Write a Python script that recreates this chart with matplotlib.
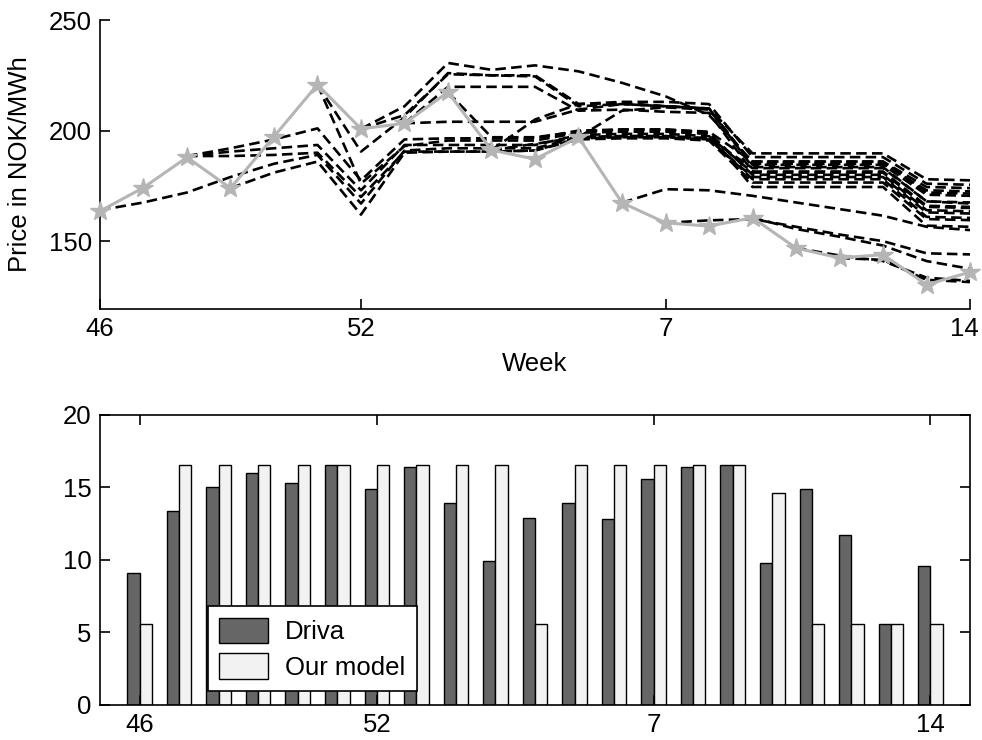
import numpy as np
import matplotlib.pyplot as plt
from matplotlib.transforms import ScaledTranslation

plt.rcParams["font.family"] = ["Liberation Sans", "DejaVu Sans"]
plt.rcParams["font.size"] = 18.5

weeks = [46, 47, 48, 49, 50, 51, 52, 1, 2, 3, 4, 5, 6, 7, 8, 9, 10, 11, 12, 13, 14]
tick_weeks = [46, 52, 7, 14]

# realised price, grey line with stars
price = [163.6, 174.2, 187.9, 174.0, 197.3, 220.8, 200.8, 203.3, 217.4, 191.2, 187.1,
         197.0, 167.4, 158.3, 156.8, 160.6, 146.9, 142.4, 143.9, 130.3, 136.0]

# forecast scenarios: index of the week they start from, then values up to week 14
scen_start = [0, 2, 2, 2, 3, 5, 5, 6, 6, 7, 7, 8, 9, 9, 11, 12, 13, 15, 16, 17]
scen_values = [
    [164, 167.5, 172, 179, 185, 189, 167, 191, 192, 192, 192, 197, 197.5, 197.5, 196.5, 183, 183, 183, 183, 168, 167],
    [188.5, 190.5, 192, 193.5, 173, 193.5, 193.5, 193.5, 193.5, 198, 198.5, 198.5, 197.5, 181, 181, 181, 181, 165.5, 165],
    [188.5, 192, 196, 201, 177.5, 196, 196.5, 196.5, 196.5, 200, 200.5, 200.5, 199.5, 186, 186, 186, 186, 172, 171.5],
    [188.5, 188.5, 189, 190, 170, 190.5, 190.5, 190.5, 191, 196.5, 197, 197, 196, 179, 179, 179, 179, 163, 162.5],
    [174, 181, 186, 162, 190, 190.5, 190.5, 191, 196, 196.5, 196.5, 195.5, 176.5, 176.5, 176.5, 176.5, 160, 159.5],
    [220.8, 190.5, 206, 226, 225, 225, 212, 212.5, 211, 210, 189.7, 189.7, 189.7, 189.7, 178, 177.5],
    [220.8, 176, 193, 195.5, 195.5, 195.5, 199, 199.5, 199.5, 198.5, 174.5, 174.5, 174.5, 174.5, 157, 156.5],
    [200.8, 211, 230.6, 227.5, 229.5, 226.8, 221.6, 215.5, 207, 186, 186, 186, 186, 174.5, 174],
    [200.8, 207, 225.5, 225, 224.5, 211, 212, 211, 210, 184.5, 184.5, 184.5, 184.5, 171, 170.5],
    [203.3, 219.8, 219.8, 219.8, 209, 209.5, 208.5, 208, 181.5, 181.5, 181.5, 181.5, 166, 165.5],
    [203.3, 204, 204, 204, 209.5, 212, 211, 210, 183.5, 183.5, 183.5, 183.5, 168, 167.5],
    [217.4, 197, 197, 199.5, 200.5, 200.5, 199, 180, 180, 180, 180, 164, 163.5],
    [191.2, 205, 212, 213, 213, 212, 188, 188, 188, 188, 176, 175.5],
    [191.2, 194, 197, 197.5, 197.5, 196.5, 178, 178, 178, 178, 161, 160.5],
    [197, 209, 210.5, 209.5, 185, 185, 185, 185, 173, 172.5],
    [167.4, 173.5, 173, 170.5, 167.5, 164.5, 161.5, 156.5, 155],
    [158.3, 159.4, 160, 156.5, 153, 150, 144.5, 144],
    [160.6, 155.5, 152, 148, 141, 137.5],
    [146.9, 143.5, 141, 133.5, 132],
    [142.4, 141.5, 132.5, 131.5],
]

driva = [9.1, 13.4, 15.0, 16.0, 15.3, 16.55, 14.9, 16.4, 13.9, 9.9, 12.9,
         13.9, 12.8, 15.6, 16.4, 16.55, 9.8, 14.9, 11.7, 5.6, 9.6]
our_model = [5.6, 16.55, 16.55, 16.55, 16.55, 16.55, 16.55, 16.55, 16.55, 16.55, 5.6,
             16.55, 16.55, 16.55, 16.55, 16.55, 14.6, 5.6, 5.6, 5.6, 5.6]

x = np.arange(len(weeks))
tick_pos = [weeks.index(w) for w in tick_weeks]

fig = plt.figure(figsize=(9.82, 7.4), dpi=100)

# top: price scenarios
ax1 = fig.add_axes([0.1018, 0.5824, 0.886, 0.3905])
for s, vals in zip(scen_start, scen_values):
    ax1.plot(x[s:s + len(vals)], vals, color="black", lw=1.9, dashes=(4, 2))
ax1.plot(x, price, color="#b5b5b5", lw=2.2, marker="*", ms=15, mfc="#b5b5b5",
         mec="#b5b5b5", zorder=5, clip_on=False)
ax1.set_xlim(0, 20)
ax1.set_ylim(119.3, 250)
ax1.set_yticks([150, 200, 250])
ax1.set_xticks(tick_pos)
ax1.set_xticklabels(tick_weeks)
ax1.spines["top"].set_visible(False)
ax1.spines["right"].set_visible(False)
ax1.tick_params(direction="in", length=7, width=1.2, pad=6)
ax1.set_xlabel("Week", labelpad=8)
ax1.set_ylabel("Price in NOK/MWh", labelpad=12)
for sp in ax1.spines.values():
    sp.set_linewidth(1.2)
# keep the last label inside the figure
last = ax1.get_xticklabels()[-1]
last.set_transform(last.get_transform() + ScaledTranslation(-4 / 72, 0, fig.dpi_scale_trans))

# bottom: bars
ax2 = fig.add_axes([0.1018, 0.0473, 0.886, 0.392])
w = 0.31
ax2.bar(x - w / 2, driva, w, color="#666666", edgecolor="black", lw=1, label="Driva")
ax2.bar(x + w / 2, our_model, w, color="#f2f2f2", edgecolor="black", lw=1, label="Our model")
ax2.set_xlim(-1, 21)
ax2.set_ylim(0, 20)
ax2.set_yticks([0, 5, 10, 15, 20])
ax2.set_xticks(tick_pos)
ax2.set_xticklabels(tick_weeks)
ax2.tick_params(direction="in", length=7, width=1.2, top=True, right=True, pad=6)
for sp in ax2.spines.values():
    sp.set_linewidth(1.2)
leg = ax2.legend(loc="lower left", bbox_to_anchor=(0.124, 0.048), borderaxespad=0,
                 fancybox=False, edgecolor="black", framealpha=1, handlelength=1.9,
                 handleheight=1.15, handletextpad=0.65, borderpad=0.45, labelspacing=0.35)
leg.get_frame().set_linewidth(1.2)

fig.savefig("out.png", dpi=100)
